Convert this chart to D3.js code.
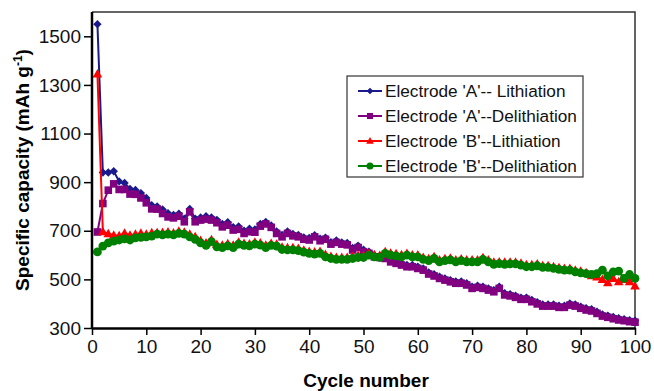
<!DOCTYPE html>
<html>
<head>
<meta charset="utf-8">
<script src="https://cdn.jsdelivr.net/npm/d3@7"></script>
<style>
  body { margin: 0; background: #fff; }
  svg text { font-family: "Liberation Sans", Arial, sans-serif; }
  .axis path, .axis line { stroke: #000; }
  .axis text { font-size: 19px; fill: #111; font-family: "Liberation Sans", Arial, sans-serif; }
</style>
</head>
<body>
<script>
var width = 654,
    height = 391,
    plotLeft = 92, plotRight = 635, plotTop = 12, plotBottom = 328;

// cycle numbers 1..100
var cycles = d3.range(1, 101);

var aLith = [1550, 940, 940, 945, 903, 897, 872, 868, 855, 835,
             805, 800, 788, 772, 765, 770, 750, 790, 750, 755,
             760, 755, 745, 728, 735, 715, 718, 700, 708, 705,
             728, 736, 722, 697, 683, 697, 687, 683, 673, 670,
             682, 667, 672, 653, 660, 652, 650, 629, 639, 622,
             614, 600, 597, 593, 579, 573, 566, 559, 559, 552,
             545, 529, 521, 511, 504, 497, 491, 491, 484, 470,
             474, 470, 463, 456, 470, 443, 439, 433, 425, 425,
             415, 406, 397, 397, 397, 392, 392, 401, 397, 388,
             381, 377, 367, 356, 351, 345, 340, 336, 332, 330];

var aDelith = [695, 812, 867, 893, 870, 870, 851, 850, 835, 815,
               790, 789, 771, 757, 753, 760, 737, 778, 737, 744,
               748, 744, 733, 716, 723, 703, 706, 689, 696, 694,
               719, 728, 714, 689, 675, 689, 679, 675, 665, 662,
               675, 659, 665, 645, 652, 645, 642, 621, 631, 614,
               607, 593, 590, 586, 572, 566, 559, 552, 552, 545,
               538, 522, 514, 504, 497, 490, 484, 484, 477, 463,
               467, 463, 456, 449, 463, 436, 432, 426, 418, 418,
               408, 399, 390, 390, 390, 385, 385, 394, 390, 381,
               374, 370, 360, 349, 344, 338, 333, 330, 326, 324];

var bLith = [1345, 696, 688, 682, 680, 690, 682, 686, 690, 686,
             692, 692, 693, 695, 691, 698, 694, 686, 675, 660,
             650, 663, 644, 640, 647, 640, 653, 648, 646, 653,
             650, 640, 648, 645, 632, 630, 630, 627, 620, 615,
             613, 615, 602, 594, 590, 590, 590, 594, 598, 598,
             607, 601, 598, 614, 608, 605, 601, 607, 600, 600,
             590, 585, 593, 580, 585, 587, 580, 584, 580, 580,
             580, 589, 580, 570, 572, 570, 571, 571, 566, 560,
             560, 563, 556, 556, 552, 548, 545, 545, 538, 533,
             527, 515, 510, 500, 486, 504, 490, 500, 490, 473];

var bDelith = [613, 637, 650, 657, 662, 667, 662, 671, 673, 675,
               678, 686, 683, 686, 683, 689, 686, 675, 665, 650,
               640, 655, 634, 631, 638, 631, 645, 640, 638, 645,
               641, 631, 640, 637, 623, 621, 621, 618, 612, 607,
               604, 607, 593, 586, 582, 582, 582, 586, 590, 590,
               600, 593, 590, 607, 600, 597, 593, 600, 593, 593,
               582, 577, 586, 572, 577, 580, 572, 577, 572, 572,
               572, 582, 572, 562, 565, 562, 564, 564, 559, 552,
               552, 556, 549, 549, 545, 541, 538, 538, 531, 527,
               524, 520, 524, 538, 514, 531, 534, 504, 520, 504];

var seriesNames = ["Electrode 'A'-- Lithiation", "Electrode 'A'--Delithiation",
                   "Electrode 'B'--Lithiation", "Electrode 'B'--Delithiation"];
var seriesValues = [aLith, aDelith, bLith, bDelith];
var seriesColors = ["#1a1a8c", "#800080", "#ff0000", "#008000"];
var seriesMarkers = ["diamond", "square", "triangle", "circle"];

var xTicks = [0, 10, 20, 30, 40, 50, 60, 70, 80, 90, 100];
var yTicks = [300, 500, 700, 900, 1100, 1300, 1500];

var x = d3.scaleLinear().domain([0, 100]).range([plotLeft, plotRight]);
var y = d3.scaleLinear().domain([300, 1600]).range([plotBottom, plotTop]);

// marker shapes
function markerPath(type) {
    if (type == "diamond") return "M0,-4.2L4.2,0L0,4.2L-4.2,0Z";
    if (type == "square") return "M-3.8,-3.8H3.8V3.8H-3.8Z";
    if (type == "triangle") return "M0,-5L4.8,3.5H-4.8Z";
    return "M4.4,0A4.4,4.4 0 1,1 -4.4,0A4.4,4.4 0 1,1 4.4,0Z";
}

var svg = d3.select("body")
    .append("svg")
        .attr("width", width)
        .attr("height", height);

// frame (top / right)
svg.append("path")
    .attr("d", "M" + plotLeft + "," + plotTop + "H" + plotRight + "V" + plotBottom)
    .attr("fill", "none")
    .attr("stroke", "#333")
    .attr("stroke-width", 1.5);

// series lines and markers
var line = d3.line()
    .x(function(d, i) { return x(cycles[i]); })
    .y(function(d) { return y(d); });

seriesValues.forEach(function(vals, s) {
    var g = svg.append("g").attr("class", "series");
    g.append("path")
        .attr("d", line(vals))
        .attr("fill", "none")
        .attr("stroke", seriesColors[s])
        .attr("stroke-width", 2);
    g.selectAll("path.mark")
        .data(vals)
        .enter()
        .append("path")
        .attr("class", "mark")
        .attr("d", markerPath(seriesMarkers[s]))
        .attr("fill", seriesColors[s])
        .attr("transform", function(d, i) {
            return "translate(" + x(cycles[i]) + "," + y(d) + ")"; });
});

// axes
var xAxis = svg.append("g")
    .attr("class", "axis")
    .attr("transform", "translate(0," + plotBottom + ")")
    .call(d3.axisBottom(x).tickValues(xTicks).tickSize(7).tickSizeOuter(0).tickPadding(5));
xAxis.select(".domain").attr("stroke-width", 2.5);
xAxis.selectAll(".tick line").attr("stroke-width", 1.5);

var yAxis = svg.append("g")
    .attr("class", "axis")
    .attr("transform", "translate(" + plotLeft + ",0)")
    .call(d3.axisLeft(y).tickValues(yTicks).tickFormat(d3.format("d"))
        .tickSize(8).tickSizeOuter(0).tickPadding(3));
yAxis.select(".domain").attr("d", "M0," + plotTop + "V" + plotBottom).attr("stroke-width", 2.5);
yAxis.selectAll(".tick line").attr("stroke-width", 1.5);
svg.selectAll(".axis").attr("font-family", null);

// axis titles
svg.append("text")
    .attr("x", 366)
    .attr("y", 387)
    .attr("text-anchor", "middle")
    .attr("font-size", 19)
    .attr("font-weight", "bold")
    .text("Cycle number");

var yTitle = svg.append("text")
    .attr("transform", "translate(29," + ((plotTop + plotBottom) / 2) + ") rotate(-90)")
    .attr("text-anchor", "middle")
    .attr("font-size", 19)
    .attr("font-weight", "bold");
yTitle.append("tspan").text("Specific capacity (mAh g");
yTitle.append("tspan").attr("dy", -7).attr("font-size", 12).text("-1");
yTitle.append("tspan").attr("dy", 7).text(")");

// legend
var legend = svg.append("g").attr("transform", "translate(347,76)");
legend.append("rect")
    .attr("width", 236)
    .attr("height", 101)
    .attr("fill", "#fff")
    .attr("stroke", "#333")
    .attr("stroke-width", 1.2);

seriesNames.forEach(function(name, s) {
    var row = legend.append("g").attr("transform", "translate(0," + (15 + s * 25) + ")");
    row.append("line")
        .attr("x1", 11).attr("x2", 35)
        .attr("stroke", seriesColors[s])
        .attr("stroke-width", 2);
    row.append("path")
        .attr("d", markerPath(seriesMarkers[s]))
        .attr("transform", "translate(23,0) scale(0.8)")
        .attr("fill", seriesColors[s]);
    row.append("text")
        .attr("x", 38)
        .attr("y", 6)
        .attr("font-size", 17.2)
        .attr("fill", "#111")
        .text(name);
});
</script>
</body>
</html>
